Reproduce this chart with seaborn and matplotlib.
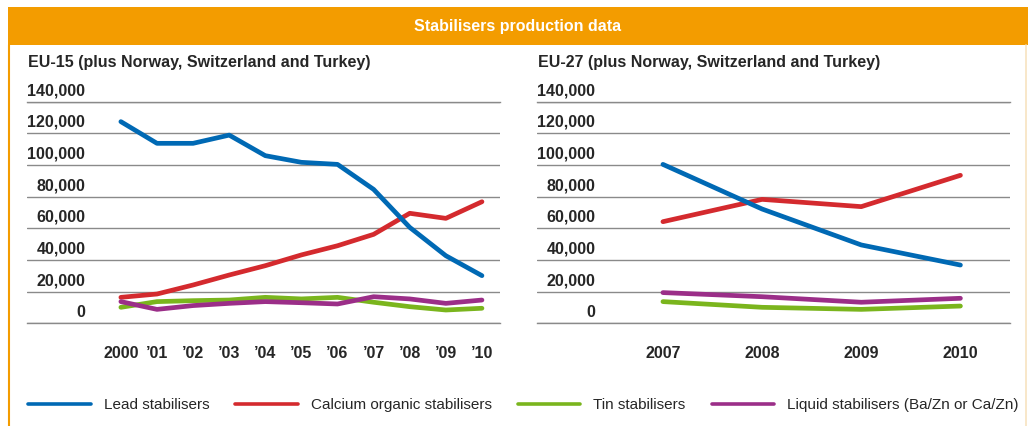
import pandas as pd
import seaborn as sns
import matplotlib.pyplot as plt
from matplotlib.patches import Rectangle
from matplotlib.lines import Line2D

# series names (legend order) and colours
series = ['Lead stabilisers', 'Calcium organic stabilisers', 'Tin stabilisers',
          'Liquid stabilisers (Ba/Zn or Ca/Zn)']
colors = ['#0069B4', '#D42A2E', '#7AB51D', '#9B2E88']

# EU-15 panel
years_eu15 = list(range(2000, 2011))
labels_eu15 = ['2000', '\u201901', '\u201902', '\u201903', '\u201904', '\u201905',
               '\u201906', '\u201907', '\u201908', '\u201909', '\u201910']
lead_eu15 = [127400, 113700, 113700, 118900, 105900, 101700, 100400, 84600, 60600, 42700, 30100]
calcium_eu15 = [16400, 18500, 24200, 30500, 36400, 43200, 49000, 56200, 69500, 66300, 76800]
tin_eu15 = [10100, 13700, 14300, 14700, 16400, 15400, 16400, 13300, 10500, 8400, 9500]
liquid_eu15 = [13700, 8800, 11200, 12600, 13700, 13000, 12200, 16800, 15400, 12600, 14700]

# EU-27 panel
years_eu27 = [2007, 2008, 2009, 2010]
labels_eu27 = ['2007', '2008', '2009', '2010']
lead_eu27 = [100400, 72200, 49500, 36800]
calcium_eu27 = [64200, 78300, 73700, 93500]
tin_eu27 = [13700, 10100, 8800, 10900]
liquid_eu27 = [19400, 16800, 13300, 15800]

y_ticks = [0, 20000, 40000, 60000, 80000, 100000, 120000, 140000]

ORANGE = '#F39C00'
W, H = 1028, 426


def long_df(years, values):
    rows = []
    for name, vals in zip(series, values):
        for y, v in zip(years, vals):
            rows.append({'year': y, 'value': v, 'series': name})
    return pd.DataFrame(rows)


def draw_panel(ax, df, years, labels, xlim):
    # draw order: blue on top, as in the original
    order = [series[1], series[2], series[3], series[0]]
    sns.lineplot(data=df, x='year', y='value', hue='series', hue_order=order,
                 palette=dict(zip(series, colors)), linewidth=3.4, errorbar=None,
                 legend=False, ax=ax, solid_capstyle='round')
    ax.set_xlim(*xlim)
    ax.set_ylim(0, 140000)
    ax.set_yticks(y_ticks)
    ax.set_yticklabels([])
    ax.tick_params(axis='y', length=0)
    ax.grid(axis='y', color='#8a8a8a', linewidth=1.0)
    ax.set_axisbelow(True)
    for s in ['left', 'right']:
        ax.spines[s].set_visible(False)
    for s in ['top', 'bottom']:
        ax.spines[s].set_color('#8a8a8a')
        ax.spines[s].set_linewidth(1.0)
    ax.set_xticks(years)
    ax.set_xticklabels(labels, fontsize=11.5, fontweight='bold')
    ax.tick_params(axis='x', length=10, width=1, color='#9a9a9a', pad=6)
    ax.set_xlabel('')
    ax.set_ylabel('')
    for v in y_ticks:
        ax.annotate(f'{v:,}', xy=(0, v), xycoords=('axes fraction', 'data'),
                    xytext=(42, 2.5), textcoords='offset points',
                    ha='right', va='bottom', fontsize=11.5, fontweight='bold')


sns.set_theme(style='white')
plt.rcParams['font.family'] = ['Liberation Sans', 'DejaVu Sans']

fig = plt.figure(figsize=(W / 100, H / 100), dpi=100)

# header band and frame
fig.add_artist(Rectangle((8 / W, 1 - 45 / H), 1 - 8 / W, 38 / H,
                         transform=fig.transFigure, color=ORANGE, lw=0))
fig.text(518 / W, 1 - 26 / H, 'Stabilisers production data', color='white',
         fontsize=11.5, fontweight='bold', ha='center', va='center')
fig.add_artist(Line2D([9 / W, 9 / W], [0, 1 - 45 / H], color=ORANGE, lw=1.5,
                      transform=fig.transFigure))
fig.add_artist(Line2D([1026 / W, 1026 / W], [0, 1 - 45 / H], color='#F7E3C0', lw=1.2,
                      transform=fig.transFigure))

bottom = 1 - 323.3 / H
height = (323.3 - 101.7) / H

ax1 = fig.add_axes([27 / W, bottom, 473 / W, height])
draw_panel(ax1, long_df(years_eu15, [lead_eu15, calcium_eu15, tin_eu15, liquid_eu15]),
           years_eu15, labels_eu15, (1997.4, 2010.5))

ax2 = fig.add_axes([537 / W, bottom, 473 / W, height])
draw_panel(ax2, long_df(years_eu27, [lead_eu27, calcium_eu27, tin_eu27, liquid_eu27]),
           years_eu27, labels_eu27, (2005.73, 2010.5))

fig.text(28 / W, 1 - 62 / H, 'EU-15 (plus Norway, Switzerland and Turkey)',
         fontsize=11.5, fontweight='bold', va='center')
fig.text(538 / W, 1 - 62 / H, 'EU-27 (plus Norway, Switzerland and Turkey)',
         fontsize=11.5, fontweight='bold', va='center')

handles = [Line2D([], [], color=c, lw=2.6, solid_capstyle='round') for c in colors]
fig.legend(handles, series, loc='center left', bbox_to_anchor=(28 / W, 1 - 405 / H),
           ncol=4, frameon=False, borderpad=0, borderaxespad=0,
           handlelength=4.1, handletextpad=0.85, columnspacing=1.7,
           prop={'size': 11})

fig.savefig('out.png', dpi=100)
